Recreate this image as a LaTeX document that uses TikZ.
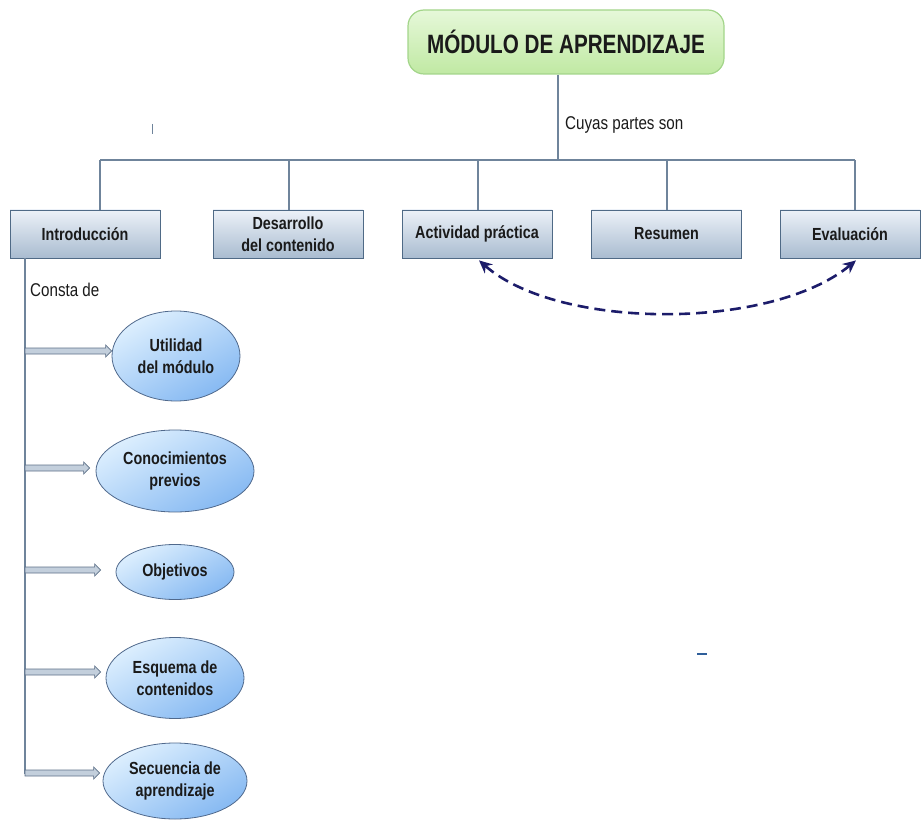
\documentclass[tikz,border=0pt]{standalone}
\usepackage{fontspec}
\setmainfont{Liberation Sans}[FakeStretch=0.82]
\newfontfamily\titlefont{Liberation Sans}[FakeStretch=0.78]
\usetikzlibrary{arrows.meta,shapes.geometric,calc}
\definecolor{boxtop}{HTML}{ECF1F8}
\definecolor{boxbot}{HTML}{A9BCD0}
\definecolor{boxborder}{HTML}{4F6A86}
\definecolor{linec}{HTML}{6F849B}
\definecolor{titletop}{HTML}{E6F8D9}
\definecolor{titlebot}{HTML}{C0E9A3}
\definecolor{titleborder}{HTML}{A3D58A}
\definecolor{ovaltop}{HTML}{DDEFFE}
\definecolor{ovalbot}{HTML}{86B9F2}
\definecolor{ovalborder}{HTML}{50698C}
\definecolor{txt}{HTML}{1A1A1A}
\definecolor{dashc}{HTML}{1C1C6A}
\definecolor{arrfill}{HTML}{C3CFDC}
\definecolor{arrborder}{HTML}{5D7088}
\definecolor{markc}{HTML}{2F5F9A}
\tikzset{
  partbox/.style={draw=boxborder, line width=0.8pt, top color=boxtop, bottom color=boxbot,
    minimum width=150pt, minimum height=48pt, inner sep=0pt, align=center, text=txt,
    font=\bfseries\fontsize{17.5}{22.5}\selectfont},
  oval/.style={ellipse, draw=ovalborder, line width=0.8pt, top color=ovaltop, bottom color=ovalbot,
    shading angle=30, inner sep=0pt, align=center, text=txt,
    font=\bfseries\fontsize{17.5}{22.5}\selectfont},
  titlebox/.style={draw=titleborder, line width=1.2pt, rounded corners=16pt, top color=titletop,
    bottom color=titlebot, minimum width=316pt, minimum height=64pt, inner sep=0pt, text=txt,
    font=\titlefont\bfseries\fontsize{26.5}{30}\selectfont},
  conn/.style={draw=linec, line width=1.1pt},
  fatarrowstyle/.style={draw=arrborder, line width=0.7pt, fill=arrfill},
  dasharrow/.style={draw=dashc, line width=2.6pt, dash pattern=on 11pt off 6pt,
    {Stealth[length=13pt,width=12pt]}-{Stealth[length=13pt,width=12pt]}},
  plain/.style={text=txt, font=\fontsize{18.5}{22}\selectfont, inner sep=0pt}
}
\newcommand\fatarrow[2]{\draw[fatarrowstyle] let \p1=(#1), \p2=(#2) in
  (\x1,\y1+3pt) -- (\x2-6pt,\y1+3pt) -- (\x2-6pt,\y1+6pt) -- (\x2,\y1)
  -- (\x2-6pt,\y1-6pt) -- (\x2-6pt,\y1-3pt) -- (\x1,\y1-3pt) -- cycle;}
\begin{document}
\begin{tikzpicture}[x=1pt,y=-1pt]
\useasboundingbox (0,0) rectangle (921,821);
% title
\node[titlebox] (title) at (566,42) {MÓDULO DE APRENDIZAJE};
% boxes
\node[partbox] (intro) at (85,234) {Introducción};
\node[partbox] (desa) at (288,234) {Desarrollo\\del contenido};
\node[partbox] (act) at (477,234) {Actividad práctica};
\node[partbox] (res) at (666.5,234) {Resumen};
\node[partbox, minimum width=140pt] (eval) at (850,234) {Evaluación};
% bus
\coordinate (tj) at (558,160);
\coordinate (b1) at (100,160);
\coordinate (b2) at (289,160);
\coordinate (b3) at (478,160);
\coordinate (b4) at (667,160);
\coordinate (b5) at (855,160);
\draw[conn] (tj |- title.south) -- (tj);
\draw[conn] (b1) -- (b5);
\draw[conn] (b1) -- (b1 |- intro.north);
\draw[conn] (b2) -- (b2 |- desa.north);
\draw[conn] (b3) -- (b3 |- act.north);
\draw[conn] (b4) -- (b4 |- res.north);
\draw[conn] (b5) -- (b5 |- eval.north);
\node[plain, anchor=west] (cuyas) at (565,125) {Cuyas partes son};
% dashed arrow
\draw[dasharrow] ([xshift=2pt,yshift=-2pt]act.south) .. controls +(80,70) and +(-85,70) .. ([xshift=6pt,yshift=-2pt]eval.south);
% ovals
\node[oval, minimum width=128pt, minimum height=90pt] (e1) at (176,356) {Utilidad\\del módulo};
\node[oval, minimum width=158pt, minimum height=82pt] (e2) at (175,471) {Conocimientos\\previos};
\node[oval, minimum width=118pt, minimum height=55pt] (e3) at (175,572) {Objetivos};
\node[oval, minimum width=138pt, minimum height=81pt] (e4) at (175,678) {Esquema de\\contenidos};
\node[oval, minimum width=144pt, minimum height=76pt] (e5) at (175,781) {Secuencia de\\aprendizaje};
% spine
\coordinate (spine) at (25,774);
\draw[conn] (spine |- intro.south) -- (spine);
\node[plain, anchor=west] (consta) at (30,290) {Consta de};
\coordinate (a1) at (25,351);
\coordinate (a2) at (25,468);
\coordinate (a3) at (25,570);
\coordinate (a4) at (25,672);
\coordinate (a5) at (25,773);
\fatarrow{a1}{a1 -| e1.west}
\fatarrow{a2}{$(a2 -| e2.west)+(-6,0)$}
\fatarrow{a3}{$(a3 -| e3.west)+(-15,0)$}
\fatarrow{a4}{$(a4 -| e4.west)+(-5,0)$}
\fatarrow{a5}{$(a5 -| e5.west)+(-3,0)$}
% stray marks
\draw[conn, line width=1pt] (152,124) -- (152,134);
\draw[draw=markc, line width=1.2pt] (697,654) -- (707,654);
\end{tikzpicture}
\end{document}
